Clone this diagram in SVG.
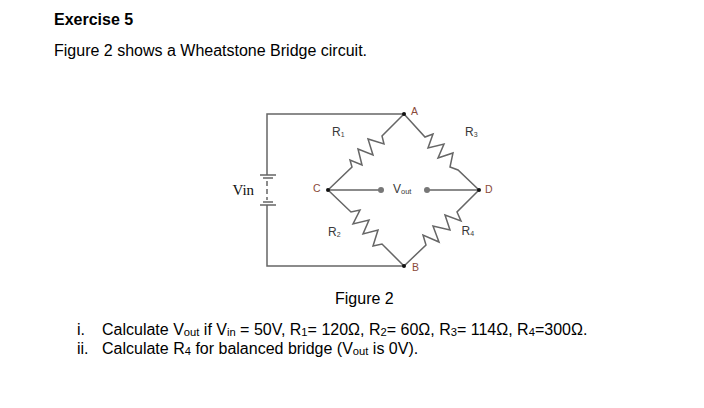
<svg xmlns="http://www.w3.org/2000/svg" width="704" height="408" viewBox="0 0 704 408">
<style>
.t{font-family:"Liberation Sans",Arial,sans-serif;fill:#000}
.b{font-size:16px}
.l{font-size:12px;fill:#3a3a3a}
.n{font-size:10.5px;fill:#8a4a3a}
.w{fill:none;stroke:#666;stroke-width:1.5;stroke-linejoin:miter}
.s{font-size:70%}
.u{font-size:7.5px}
</style>
<rect width="704" height="408" fill="#fff"/>
<text class="t" x="54" y="25" font-size="16" font-weight="bold">Exercise 5</text>
<text class="t b" x="54" y="55.5">Figure 2 shows a Wheatstone Bridge circuit.</text>
<g id="connectors">
<path class="w" d="M404 114H267V175M267 205V266H404"/>
<path class="w" d="M260 175H276M263 178H273M263 202H273M260 205H276"/>
<path class="w" d="M267 181V200" stroke-dasharray="5 3"/>
<path class="w" d="M328 190L352 167L350 160L362 165L358 149L373 155L368 139L384 144L382 136L404 114"/>
<path class="w" d="M328 190L351 212L360 210L353 224L369 220L363 234L378 230L373 246L382 244L404 266"/>
<path class="w" d="M404 114L425 137L433 134L428 148L444 144L438 158L453 153L450 167L458 170L479 190"/>
<path class="w" d="M479 190L457 212L461 221L445 215L450 230L433 226L439 242L423 235L426 245L404 266"/>
<path class="w" d="M328 190H381M427 190H479"/>
</g>
<g id="node-A"><circle cx="404" cy="114" r="2" fill="#111"/><text class="t n" x="411" y="115">A</text></g>
<g id="node-B"><circle cx="404" cy="266" r="2" fill="#111"/><text class="t n" x="412" y="271">B</text></g>
<g id="node-C"><circle cx="328" cy="190" r="2" fill="#111"/><text class="t n" x="313" y="192">C</text></g>
<g id="node-D"><circle cx="479" cy="190" r="2" fill="#111"/><text class="t n" x="485" y="193">D</text></g>
<g id="vout"><circle cx="381" cy="190" r="3" fill="#777"/><circle cx="427" cy="190" r="3" fill="#777"/>
<text class="t l" x="393" y="193">V<tspan class="u" dy="1">out</tspan></text></g>
<g id="R1"><text class="t l" x="332" y="136">R<tspan font-size="7" dy="1">1</tspan></text></g>
<g id="R2"><text class="t l" x="328" y="236">R<tspan font-size="7" dy="1">2</tspan></text></g>
<g id="R3"><text class="t l" x="465" y="136">R<tspan font-size="7" dy="1">3</tspan></text></g>
<g id="R4"><text class="t l" x="461.500" y="235">R<tspan font-size="7" dy="1">4</tspan></text></g>
<g id="Vin"><text x="232.500" y="195" font-family="Liberation Serif,serif" font-size="15" fill="#111">Vin</text></g>
<text class="t b" x="335" y="303.500">Figure 2</text>
<text class="t b" x="77" y="335">i.</text>
<text class="t b" x="102" y="335">Calculate V<tspan class="s" dy="1">out</tspan><tspan dy="-1"> if V</tspan><tspan class="s" dy="1">in</tspan><tspan dy="-1"> = 50V, R</tspan><tspan class="s" dy="1">1</tspan><tspan dy="-1">= 120Ω, R</tspan><tspan class="s" dy="1">2</tspan><tspan dy="-1">= 60Ω, R</tspan><tspan class="s" dy="1">3</tspan><tspan dy="-1">= 114Ω, R</tspan><tspan class="s" dy="1">4</tspan><tspan dy="-1">=300Ω.</tspan></text>
<text class="t b" x="77" y="354">ii.</text>
<text class="t b" x="102" y="354">Calculate R<tspan class="s" dy="1">4</tspan><tspan dy="-1"> for balanced bridge (V</tspan><tspan class="s" dy="1">out</tspan><tspan dy="-1"> is 0V).</tspan></text>
</svg>
